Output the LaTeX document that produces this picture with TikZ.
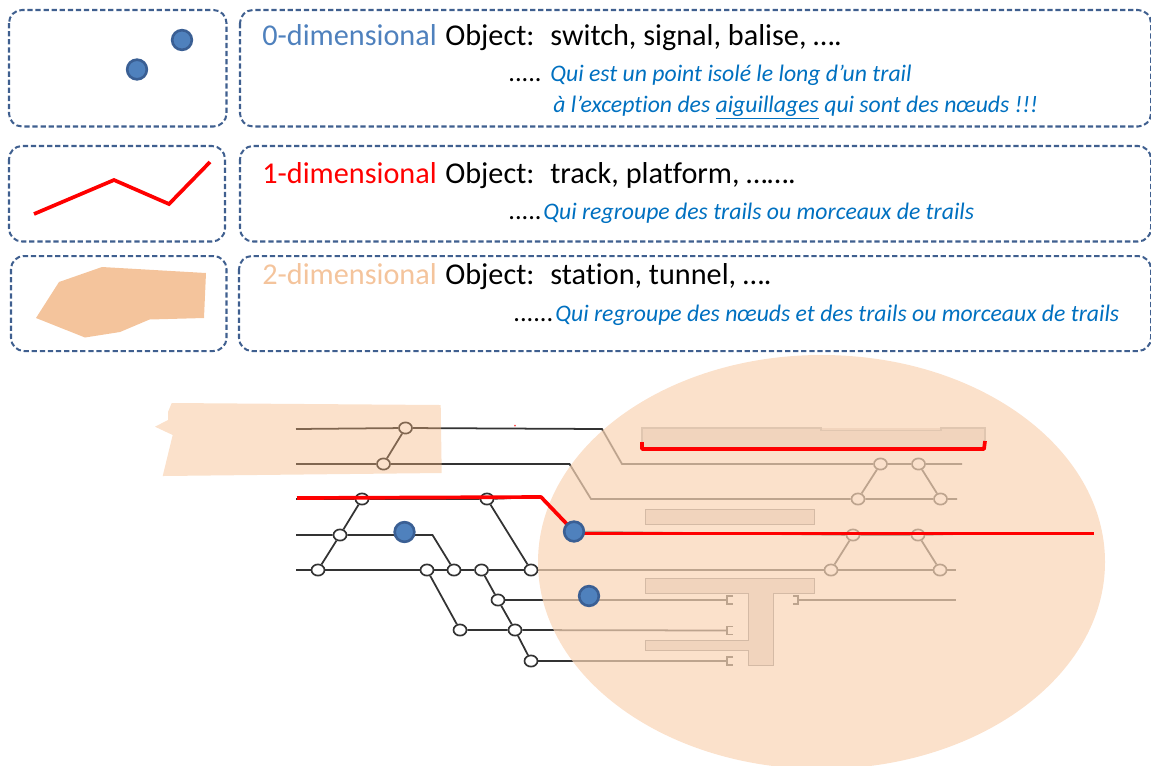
\documentclass[tikz,border=0pt]{standalone}
\usepackage{fontspec}
\setmainfont{Carlito}[Ligatures=NoCommon]
\usetikzlibrary{shapes.geometric}
\definecolor{dimblue}{HTML}{3F5F8F}
\definecolor{zeroblue}{HTML}{4F81BD}
\definecolor{twoorange}{HTML}{F4C49C}
\definecolor{zonecolor}{HTML}{F9D4B5}
\definecolor{zonedark}{HTML}{F5B47D}
\definecolor{textblue}{HTML}{0070C0}
\definecolor{trackcolor}{HTML}{333333}
\definecolor{signalline}{HTML}{3A5F94}
\definecolor{quaifill}{HTML}{E1D7D3}
\begin{document}
\begin{tikzpicture}[x=0.02cm, y=-0.02cm]
\tikzset{dimbox/.style={draw=dimblue, line width=1.15pt, dash pattern=on 3pt off 1.6pt, rounded corners=7.4pt}}
\tikzset{bigtxt/.style={anchor=base west, inner sep=0pt, font=\fontsize{17.2}{20}\selectfont}}
\tikzset{smalltxt/.style={anchor=base west, inner sep=0pt, text=textblue, font=\fontsize{13.5}{16}\selectfont\itshape}}
\tikzset{dotstxt/.style={anchor=base west, inner sep=0pt, font=\fontsize{15}{16}\selectfont}}
\tikzset{aiguille/.style={draw=trackcolor, fill=white, ellipse, line width=0.95pt, inner sep=0pt, minimum width=7.4pt, minimum height=6.4pt}}
\tikzset{signalpt/.style={draw=signalline, fill=zeroblue, circle, line width=1.5pt, inner sep=0pt, minimum size=11.2pt}}
\tikzset{voie/.style={draw=trackcolor, line width=1pt}}
\tikzset{quai/.style={draw=gray, fill=quaifill, line width=0.5pt}}
\tikzset{redline/.style={draw=red, line width=2.1pt, line join=round}}
\useasboundingbox (0,0) rectangle (1151,765);
\clip (0,0) rectangle (1151,765);
\draw[dimbox] (9,10) rectangle (226.5,126.5);
\draw[dimbox] (9,146) rectangle (225,241.5);
\draw[dimbox] (11,256) rectangle (226.5,351);
\draw[dimbox] (240,10) rectangle (1151,126.5);
\draw[dimbox] (240,146) rectangle (1151,241.5);
\draw[dimbox] (239,256) rectangle (1151,351);
\node[signalpt] (D1) at (182,40) {};
\node[signalpt] (D2) at (137,69.5) {};
\draw[red, line width=2.1pt] (34,214) -- (114,180) -- (169,204) -- (210,162);
\fill[twoorange] (36,318) -- (59,282) -- (102,267) -- (206,273) -- (204,318) -- (149.5,319.5) -- (120,332) -- (85,337.5) -- cycle;
\node[bigtxt, text=zeroblue] (T1) at (262,45) {0-dimensional};
\node[bigtxt] (T2) at (445,45) {Object:};
\node[bigtxt] (T3) at (550,45) {switch, signal, balise, ….};
\node[dotstxt] (T4) at (508,81) {.....};
\node[smalltxt] (T5) at (550,81) {Qui est un point isolé le long d’un trail};
\node[smalltxt] (T6) at (553,112) {à l’exception des \underline{aiguillages} qui sont des nœuds !!!};
\node[bigtxt, text=red] (T7) at (262,183) {1-dimensional};
\node[bigtxt] (T8) at (445,183) {Object:};
\node[bigtxt] (T9) at (550,183) {track, platform, …….};
\node[dotstxt] (T10) at (508,219) {.....};
\node[smalltxt] (T11) at (543,219) {Qui regroupe des trails ou morceaux de trails};
\node[bigtxt, text=twoorange] (T12) at (262,284) {2-dimensional};
\node[bigtxt] (T13) at (445,284) {Object:};
\node[bigtxt] (T14) at (550,284) {station, tunnel, ….};
\node[dotstxt] (T15) at (513,321) {......};
\node[smalltxt] (T16) at (555,321) {Qui regroupe des nœuds et des trails ou morceaux de trails};
\fill[quaifill] (642,428) rectangle (985,449);
\draw[draw=gray!70, line width=0.6pt] (642,449) -- (642,428) -- (821,428) -- (821,430.7) -- (941,430.7) -- (941,428) -- (985,428) -- (985,449);
\draw[quai] (645.7,509.3) rectangle (814.7,524.3);
\draw[quai] (645.7,578.3) -- (814.7,578.3) -- (814.7,593.3) -- (773,593.3) -- (773,665.3) -- (748.7,665.3) -- (748.7,650.3) -- (645.7,650.3) -- (645.7,640.3) -- (748.7,640.3) -- (748.7,593.3) -- (645.7,593.3) -- cycle;
\node[aiguille] (A1) at (405.5,428) {};
\node[aiguille] (A2) at (383.5,464) {};
\node[aiguille] (A3) at (880.5,464) {};
\node[aiguille] (A4) at (918.5,464) {};
\node[aiguille] (A5) at (858,499) {};
\node[aiguille] (A6) at (940.5,499) {};
\node[aiguille] (B1) at (362,499) {};
\node[aiguille] (B2) at (487,499) {};
\node[aiguille] (B3) at (340,535) {};
\node[aiguille] (B4) at (853,535) {};
\node[aiguille] (B5) at (918,535) {};
\node[aiguille] (C1) at (318,570) {};
\node[aiguille] (C2) at (427,570) {};
\node[aiguille] (C3) at (454,570) {};
\node[aiguille] (C4) at (481.5,570) {};
\node[aiguille] (C5) at (531,570) {};
\node[aiguille] (C6) at (831,570) {};
\node[aiguille] (C7) at (940,570) {};
\node[aiguille] (E1) at (498,600) {};
\node[aiguille] (E2) at (460,630) {};
\node[aiguille] (E3) at (515,630) {};
\node[aiguille] (E4) at (531,661) {};
\coordinate (G1) at (296,429);
\coordinate (G2) at (602,429);
\coordinate (G3) at (622,464);
\coordinate (G4) at (962,464);
\coordinate (H1) at (296,464);
\coordinate (H2) at (569.5,464);
\coordinate (H3) at (591,499);
\coordinate (H4) at (957,499);
\coordinate (I1) at (296,499);
\coordinate (I2) at (541,497);
\coordinate (I3) at (574,531.5);
\coordinate (I4) at (957,534);
\coordinate (J1) at (296,535);
\coordinate (J2) at (432.5,535);
\coordinate (K1) at (296,570);
\coordinate (K2) at (956,570);
\coordinate (L1) at (727,600);
\coordinate (L2) at (798,600);
\coordinate (L3) at (956,600);
\coordinate (M1) at (727,630.5);
\coordinate (N1) at (727,661);
\draw[voie] (G1) -- (A1) -- (G2) -- (G3) -- (A3) -- (A4) -- (G4);
\draw[voie] (H1) -- (A2) -- (H2) -- (H3) -- (A5) -- (A6) -- (H4);
\draw[voie] (I1) -- (B1) -- (B2) -- (I2) -- (I3) -- (B4) -- (B5) -- (I4);
\draw[voie] (J1) -- (B3) -- (J2) -- (C3);
\draw[voie] (K1) -- (C1) -- (C2) -- (C3) -- (C4) -- (C5) -- (C6) -- (C7) -- (K2);
\draw[voie] (E1) -- (L1);
\draw[voie] (E2) -- (E3) -- (M1);
\draw[voie] (E4) -- (N1);
\draw[voie] (L2) -- (L3);
\draw[voie] (A1) -- (A2);
\draw[voie] (A3) -- (A5);
\draw[voie] (A4) -- (A6);
\draw[voie] (C1) -- (B3) -- (B1);
\draw[voie] (B2) -- (C5);
\draw[voie] (C2) -- (E2);
\draw[voie] (C4) -- (E1) -- (E3) -- (E4);
\draw[voie] (C6) -- (B4);
\draw[voie] (C7) -- (B5);
\draw[voie] (733,596) -- (727,596) -- (727,604) -- (733,604);
\draw[voie] (733,626.5) -- (727,626.5) -- (727,634.5) -- (733,634.5);
\draw[voie] (733,657) -- (727,657) -- (727,665) -- (733,665);
\draw[voie] (793,596) -- (798,596) -- (798,604) -- (793,604);
\fill[zonedark, opacity=0.4] (155,426.7) -- (168,420) -- (168,412) -- (171.7,403) -- (440.7,405) -- (441.7,473) -- (162.7,476) -- (172.7,435) -- cycle;
\fill[zonecolor, opacity=0.7] (821.5,562) ellipse [x radius=283.5, y radius=207];
\fill[red!70] (515,425.5) circle (1);
\coordinate (R1) at (297,498);
\coordinate (R2) at (541,497);
\coordinate (R3) at (1094,533.5);
\coordinate (U1) at (642,442);
\coordinate (U2) at (642,449);
\coordinate (U3) at (984,449);
\coordinate (U4) at (985,441);
\coordinate (R4) at (574,533.5);
\draw[redline] (R1) -- (R2) -- (I3);
\draw[redline] (R4) -- (R3);
\draw[redline] (U1) -- (U2) -- (U3) -- (U4);
\node[signalpt] (S1) at (404.5,532) {};
\node[signalpt] (S2) at (574,531.5) {};
\node[signalpt] (S3) at (589,596) {};
\end{tikzpicture}
\end{document}
